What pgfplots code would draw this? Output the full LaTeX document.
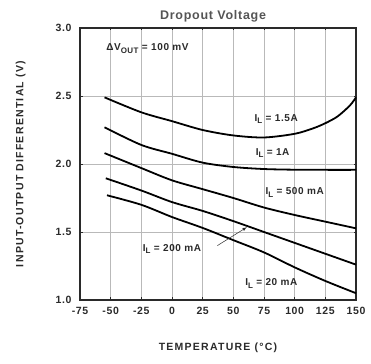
\documentclass[border=0pt]{standalone}
\usepackage{fontspec}
\setmainfont{Liberation Sans}
\newfontfamily\lsp[LetterSpace=12]{Liberation Sans}
\newfontfamily\lspb[LetterSpace=6]{Liberation Sans}
\usepackage{pgfplots}
\pgfplotsset{compat=1.18}
\definecolor{txt}{HTML}{2a2a2a}
\definecolor{ttl}{HTML}{555555}
\newcommand{\sub}[1]{\raisebox{-0.45ex}{\fontsize{8}{9}\selectfont #1}}
\begin{document}
\begin{tikzpicture}
\useasboundingbox (-80pt,-63pt) rectangle (291pt,300pt);
\begin{axis}[
  at={(0,0)}, anchor=south west,
  scale only axis, width=276pt, height=272pt,
  xmin=-75, xmax=150, ymin=1, ymax=3,
  xtick={-75,-50,-25,0,25,50,75,100,125,150},
  ytick={1,1.5,2,2.5,3},
  xticklabels={-75,-50,-25,0,25,50,75,100,125,150},
  yticklabels={1.0,1.5,2.0,2.5,3.0},
  /pgf/number format/assume math mode=true,
  tick label style={font=\lspb\bfseries\fontsize{10.5}{12}\selectfont, text=txt},
  xticklabel style={yshift=-4pt},
  yticklabel style={xshift=-5pt},
  grid=major,
  major grid style={gray!55, line width=0.6pt},
  axis line style={txt, line width=1.1pt},
  major tick length=2.5pt,
  tick style={txt, line width=0.8pt},
  tick align=inside,
  title={Dropout Voltage},
  title style={at={(axis description cs:0.482,1.02)}, anchor=center, font=\lspb\bfseries\fontsize{12.5}{14}\selectfont, text=ttl},
  xlabel={TEMPERATURE (°C)},
  xlabel style={at={(axis description cs:0.5,-0.176)}, anchor=center, font=\lsp\bfseries\fontsize{10.5}{12}\selectfont, text=txt},
  ylabel={INPUT-OUTPUT DIFFERENTIAL (V)},
  ylabel style={at={(axis description cs:-0.215,0.5)}, anchor=center, font=\lsp\bfseries\fontsize{10.5}{12}\selectfont, text=txt},
  clip=false,
]
% I_L = 1.5 A
\addplot[black, line width=1.8pt, smooth, tension=0.5] coordinates {
(-55,2.49) (-25,2.38) (0,2.315) (25,2.25) (50,2.21) (75,2.195) (100,2.222) (115,2.262) (125,2.30) (135,2.35) (145,2.43) (150,2.49)};
% I_L = 1 A
\addplot[black, line width=1.8pt, smooth, tension=0.5] coordinates {
(-55,2.27) (-25,2.14) (0,2.075) (25,2.01) (50,1.978) (75,1.963) (100,1.958) (125,1.957) (150,1.957)};
% I_L = 500 mA
\addplot[black, line width=1.8pt, smooth, tension=0.5] coordinates {
(-55,2.08) (-25,1.97) (0,1.88) (25,1.815) (50,1.75) (75,1.68) (100,1.625) (125,1.576) (150,1.527)};
% I_L = 200 mA
\addplot[black, line width=1.8pt, smooth, tension=0.5] coordinates {
(-54,1.895) (-25,1.805) (0,1.72) (25,1.655) (50,1.58) (75,1.50) (100,1.42) (125,1.34) (150,1.26)};
% I_L = 20 mA
\addplot[black, line width=1.8pt, smooth, tension=0.5] coordinates {
(-53,1.77) (-25,1.70) (0,1.61) (25,1.53) (50,1.44) (75,1.35) (100,1.24) (125,1.14) (150,1.05)};

\node[font=\lspb\bfseries\fontsize{10}{11}\selectfont, text=txt] at (axis cs:-20,2.85) {ΔV\sub{OUT} = 100 mV};
\node[font=\lspb\bfseries\fontsize{10}{11}\selectfont, text=txt] at (axis cs:85,2.33) {I\sub{L} = 1.5A};
\node[font=\lspb\bfseries\fontsize{10}{11}\selectfont, text=txt] at (axis cs:82,2.08) {I\sub{L} = 1A};
\node[font=\lspb\bfseries\fontsize{10}{11}\selectfont, text=txt] at (axis cs:100,1.79) {I\sub{L} = 500 mA};
\node[font=\lspb\bfseries\fontsize{10}{11}\selectfont, text=txt] at (axis cs:0,1.375) {I\sub{L} = 200 mA};
\node[font=\lspb\bfseries\fontsize{10}{11}\selectfont, text=txt] at (axis cs:81,1.12) {I\sub{L} = 20 mA};
\draw[-latex, txt, line width=0.5pt] (axis cs:37,1.40) -- (axis cs:61,1.535);
\end{axis}
\end{tikzpicture}
\end{document}
